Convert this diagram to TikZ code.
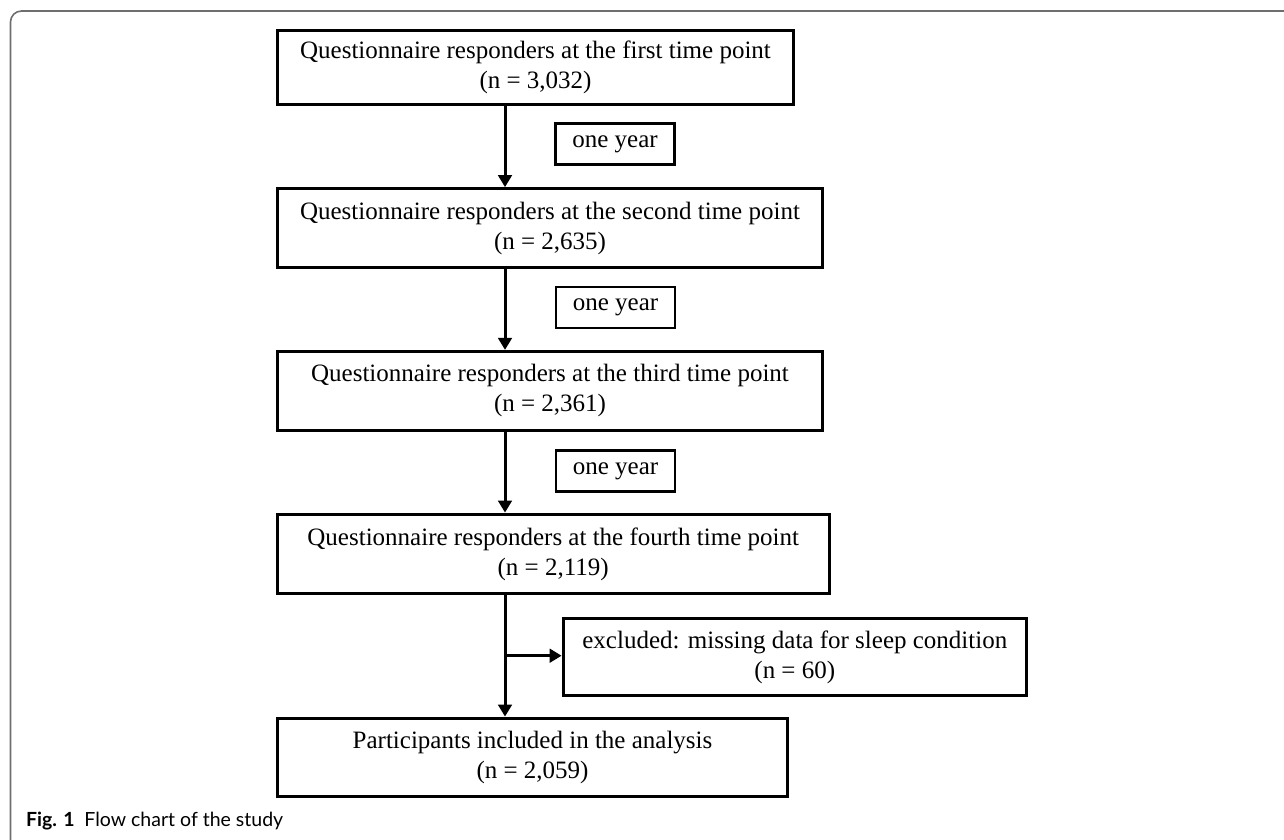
\documentclass[tikz,border=0pt]{standalone}
\usepackage{fontspec}
\setmainfont{Liberation Serif}
\newfontfamily\capfont{Lato}
\usetikzlibrary{arrows.meta}
\definecolor{framegray}{RGB}{110,110,110}
\tikzset{
  stagebox/.style={draw, line width=3pt, rectangle, align=center, inner sep=0pt,
    font=\fontsize{25}{30}\selectfont},
  yearbox/.style={draw, line width=2.6pt, rectangle, align=center, inner sep=0pt,
    minimum width=119pt, minimum height=41pt, font=\fontsize{25}{30}\selectfont},
  flowarrow/.style={line width=3pt, -{Triangle[length=12pt,width=13.5pt]}},
  framestyle/.style={draw=framegray, line width=1.6pt, rounded corners=11pt},
}
\begin{document}
\begin{tikzpicture}[x=1pt,y=-1pt]
\useasboundingbox (0,0) rectangle (1284,839);
\clip (0,0) rectangle (1284,839);
% outer frame
\draw[framestyle] (60,852) -- (10.5,852) -- (10.5,11) -- (1320,11);

% stage boxes
\node[stagebox, minimum width=516.7pt, minimum height=73.7pt] (b1) at (535.5,67.7)
  {Questionnaire responders at the first time point\\(n = 3,032)};
\node[stagebox, minimum width=545.7pt, minimum height=78.7pt] (b2) at (550,228)
  {Questionnaire responders at the second time point\\(n = 2,635)};
\node[stagebox, minimum width=545.7pt, minimum height=78.8pt] (b3) at (550,390.8)
  {Questionnaire responders at the third time point\\(n = 2,361)};
\node[stagebox, minimum width=552.1pt, minimum height=79.6pt] (b4) at (553.2,553.9)
  {Questionnaire responders at the fourth time point\\(n = 2,119)};
\node[stagebox, minimum width=463.3pt, minimum height=77.5pt] (ex) at (794.8,657.1)
  {excluded: missing data for sleep condition\\(n = 60)};
\node[stagebox, minimum width=510.7pt, minimum height=78pt] (b5) at (532.5,757.1)
  {Participants included in the analysis\\(n = 2,059)};

% one-year labels
\node[yearbox] (y1) at (615,144) {one year};
\node[yearbox] (y2) at (615.5,307.5) {one year};
\node[yearbox] (y3) at (615.5,471) {one year};

% connectors
\coordinate (ax) at (505,0);
\coordinate (br) at (505,655.7);
\draw[flowarrow] (b1.south -| ax) -- (b2.north -| ax);
\draw[flowarrow] (b2.south -| ax) -- (b3.north -| ax);
\draw[flowarrow] (b3.south -| ax) -- (b4.north -| ax);
\draw[flowarrow] (b4.south -| ax) -- (b5.north -| ax);
\draw[flowarrow] (br) -- (br -| ex.west);

% caption
\node[anchor=base west, inner sep=0pt, font=\capfont\fontsize{19.5}{24}\selectfont] (cap) at (26,826)
  {\textbf{Fig. 1}\hspace{0.5em}Flow chart of the study};
\end{tikzpicture}
\end{document}
